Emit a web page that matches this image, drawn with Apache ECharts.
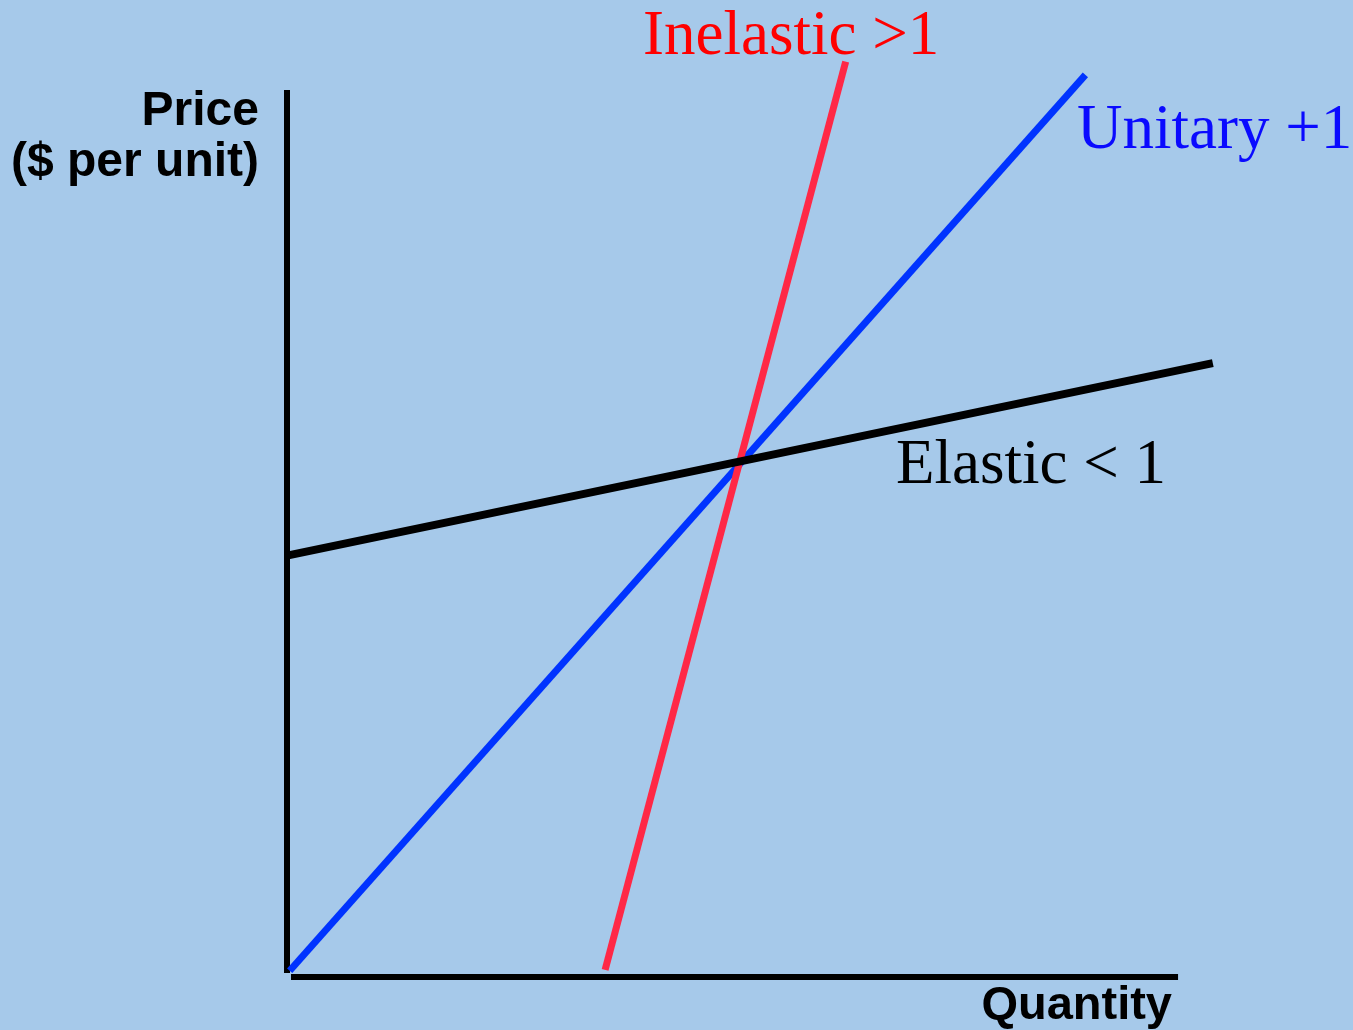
<!DOCTYPE html>
<html>
<head>
<meta charset="utf-8">
<title>Price elasticity of supply</title>
<script src="https://cdn.jsdelivr.net/npm/echarts@6/dist/echarts.min.js"></script>
<style>
  html, body { margin: 0; padding: 0; background: #a6c9ea; }
  #chart { width: 1353px; height: 1030px; }
</style>
</head>
<body>
<div id="chart"></div>
<script>
// Supply curves through a common point, in quantity/price units
const unitaryCurve = [[0.3, 0.7], [89.6, 101.7]];
const inelasticCurve = [[35.7, 0.8], [62.7, 103.2]];
const elasticCurve = [[0, 47.5], [103.9, 69.2]];

// Axis strokes: quantity axis along price 0, price axis along quantity 0
const quantityAxisLine = [[0.45, 0], [100, 0]];
const priceAxisLine = [[0, 0.45], [0, 100]];

const axisNames = { price: 'Price\n($ per unit)', quantity: 'Quantity' };
const curveLabels = {
  inelastic: 'Inelastic >1',
  unitary: 'Unitary +1',
  elastic: 'Elastic < 1'
};

const chart = echarts.init(document.getElementById('chart'), null, { renderer: 'canvas' });

function bareAxis(max) {
  return {
    type: 'value',
    min: 0,
    max: max,
    axisLine: { show: false },
    axisTick: { show: false },
    axisLabel: { show: false },
    splitLine: { show: false }
  };
}

function stroke(name, data, color, width, z) {
  return {
    name: name,
    type: 'line',
    data: data,
    symbol: 'none',
    clip: false,
    silent: true,
    z: z,
    lineStyle: { color: color, width: width, cap: 'butt' }
  };
}

const serif = '"Liberation Serif", "Times New Roman", serif';
const sans = '"Liberation Sans", Arial, Helvetica, sans-serif';

chart.setOption({
  backgroundColor: '#a6c9ea',
  animation: false,
  grid: { left: 287, top: 54.5, right: 139.3, bottom: 53 },
  xAxis: bareAxis(104),
  yAxis: bareAxis(104),
  series: [
    stroke('price axis', priceAxisLine, '#000000', 6, 2),
    stroke('quantity axis', quantityAxisLine, '#000000', 6, 2),
    stroke(curveLabels.unitary, unitaryCurve, '#0033ff', 7, 3),
    stroke(curveLabels.inelastic, inelasticCurve, '#ff2846', 7, 4),
    stroke(curveLabels.elastic, elasticCurve, '#000000', 8, 5)
  ],
  graphic: [
    {
      type: 'text', x: 259, y: 137,
      style: {
        text: axisNames.price, fill: '#000', font: 'bold 48px ' + sans,
        textAlign: 'right', textVerticalAlign: 'middle', lineHeight: 51
      }
    },
    {
      type: 'text', x: 1172, y: 1006,
      style: {
        text: axisNames.quantity, fill: '#000', font: 'bold 47px ' + sans,
        textAlign: 'right', textVerticalAlign: 'middle'
      }
    },
    {
      type: 'text', x: 643, y: 37,
      style: {
        text: curveLabels.inelastic, fill: '#ff0000', font: '63px ' + serif,
        textAlign: 'left', textVerticalAlign: 'middle'
      }
    },
    {
      type: 'text', x: 1077, y: 131,
      style: {
        text: curveLabels.unitary, fill: '#0a0aff', font: '63px ' + serif,
        textAlign: 'left', textVerticalAlign: 'middle'
      }
    },
    {
      type: 'text', x: 896, y: 466,
      style: {
        text: curveLabels.elastic, fill: '#000000', font: '63px ' + serif,
        textAlign: 'left', textVerticalAlign: 'middle'
      }
    }
  ]
});
</script>
</body>
</html>
